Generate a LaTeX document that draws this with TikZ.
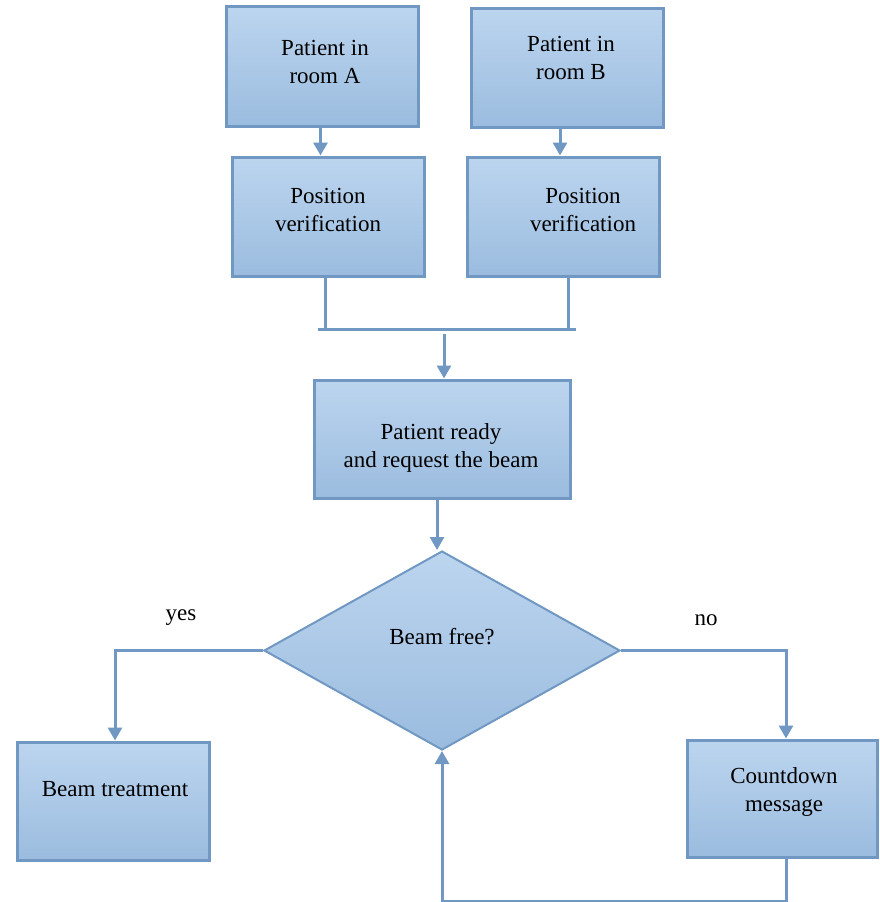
\documentclass[tikz,border=0pt]{standalone}
\usepackage{fontspec}
\setmainfont{Liberation Serif}
\usetikzlibrary{shapes.geometric,arrows.meta,calc}
\definecolor{boxtop}{HTML}{BCD5EF}
\definecolor{boxbot}{HTML}{9BBCDF}
\definecolor{edge}{HTML}{7098C2}
\tikzset{
  box/.style={draw=edge,line width=3pt,top color=boxtop,bottom color=boxbot,minimum width=#1,minimum height=118pt,inner sep=0pt},
  box/.default=192pt,
  txt/.style={align=center,font=\fontsize{23}{28}\selectfont,inner sep=0pt},
  ln/.style={draw=edge,line width=3pt},
  arr/.style={ln,-{Triangle[width=14pt,length=13pt]}},
}
\begin{document}
\begin{tikzpicture}[x=1pt,y=-1pt]
\useasboundingbox (0,0) rectangle (879,902);
% boxes
\node[box,minimum height=120pt] (boxA) at (322.5,66) {};
\node[box,minimum height=119pt] (boxB) at (567,67.5) {};
\node[box,minimum height=119pt] (posA) at (328,216.5) {};
\node[box,minimum height=119pt] (posB) at (563,216.5) {};
\node[box=256pt] (ready) at (442,439) {};
\node[draw=edge,line width=2pt,top color=boxtop,bottom color=boxbot,shape=diamond,minimum width=356pt,minimum height=199pt,inner sep=0pt] (dia) at (442,650.5) {};
\node[box] (treat) at (113,801) {};
\node[box=190pt,minimum height=117pt] (count) at (782,798.5) {};
% texts
\node[txt] (tA) at (325,62) {Patient in\\room A};
\node[txt] (tB) at (571,58) {Patient in\\room B};
\node[txt] (tpA) at (328,210) {Position\\verification};
\node[txt] (tpB) at (583,210) {Position\\verification};
\node[txt] (tready) at (441,448) {Patient ready\\and request the beam};
\node[txt] (tdia) at (442,637) {Beam free?};
\node[txt] (ttreat) at (115,789) {Beam treatment};
\node[txt] (tcount) at (784,792) {Countdown\\message};
\node[txt] (yes) at (181,618) {yes};
\node[txt] (no) at (706,620) {no};
% connectors
\draw[arr] ([xshift=-2pt]boxA.south) -- ([xshift=-2pt]boxA.south |- posA.north);
\draw[arr] ([xshift=-7pt]boxB.south) -- ([xshift=-7pt]boxB.south |- posB.north);
\coordinate (jl) at (318,329);
\coordinate (jr) at (576,329);
\coordinate (jm) at (444,334);
\draw[ln] (jl) -- (jr);
\draw[ln] ([xshift=-3pt]posA.south) -- ([xshift=-3pt]posA.south |- jl);
\draw[ln] ([xshift=5pt]posB.south) -- ([xshift=5pt]posB.south |- jr);
\draw[arr] (jm) -- (jm |- ready.north);
\draw[arr] ([xshift=-5pt]ready.south) -- ([xshift=-5pt]ready.south |- dia.north);
\draw[arr] (dia.west) -| ([xshift=2pt]treat.north);
\draw[arr] (dia.east) -| ([xshift=4pt]count.north);
\draw[arr] ([xshift=4pt]count.south) -- ++(0,43) -| (dia.south);
\end{tikzpicture}
\end{document}
